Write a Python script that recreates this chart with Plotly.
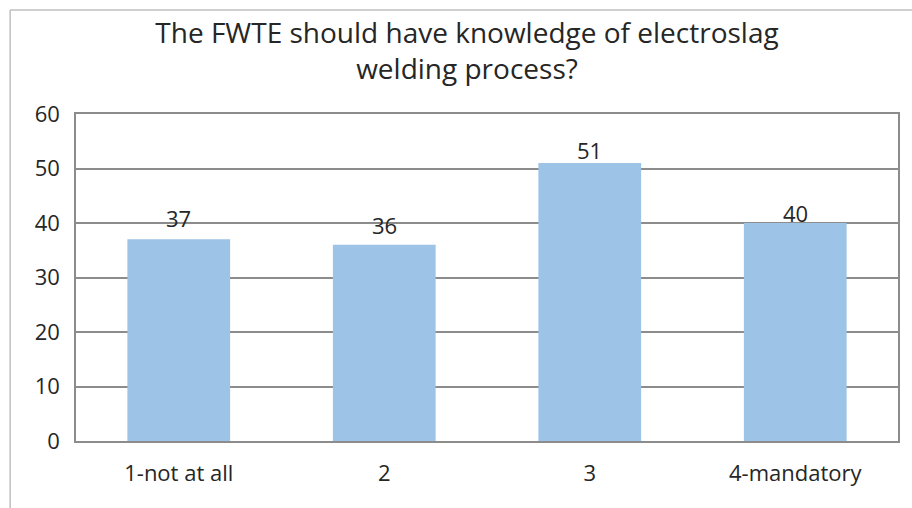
import plotly.graph_objects as go

categories = ["1-not at all", "2", "3", "4-mandatory"]
values = [37, 36, 51, 40]
y_ticks = [0, 10, 20, 30, 40, 50, 60]
title_lines = ["The FWTE should have knowledge of electroslag", "welding process?"]

W, H = 912, 508
L, R, T, B = 76, 12, 114, 67
pw, ph = W - L - R, H - T - B

FONT = "Open Sans, Noto Sans, sans-serif"
TEXT = "#262626"
GRID = "#8c8c8c"

# per-label vertical nudges (px) for the value labels
label_nudge = [4, 3, -4, -7]

fig = go.Figure(
    go.Bar(
        x=categories,
        y=values,
        marker=dict(color="#9DC3E6", line=dict(width=0)),
        cliponaxis=False,
    )
)

# value labels sitting just above each bar (category axis: position by index)
for i, val in enumerate(values):
    fig.add_annotation(
        x=i, y=val, xref="x", yref="y",
        text=str(val), showarrow=False,
        yanchor="bottom", yshift=label_nudge[i],
        font=dict(family=FONT, size=22, color=TEXT),
    )

# outer chart-area frame (in pixels, converted to paper coordinates)
def px_x(x):
    return (x - L) / pw

def px_y(y):
    return 1 - (y - T) / ph

fig.add_shape(type="line", xref="paper", yref="paper",
              x0=px_x(10), x1=px_x(W + 5), y0=px_y(10), y1=px_y(10),
              line=dict(color="#bfbfbf", width=1.5))
fig.add_shape(type="line", xref="paper", yref="paper",
              x0=px_x(10), x1=px_x(10), y0=px_y(10), y1=px_y(H + 5),
              line=dict(color="#bfbfbf", width=1.5))

fig.update_layout(
    width=W,
    height=H,
    margin=dict(l=L, r=R, t=T, b=B),
    paper_bgcolor="white",
    plot_bgcolor="white",
    bargap=0.5,
    showlegend=False,
    title=dict(
        text="<br>".join(title_lines),
        x=467 / W,
        xanchor="center",
        y=1 - 43 / H,
        yanchor="middle",
        font=dict(family=FONT, size=28, color=TEXT),
    ),
    font=dict(family=FONT, color=TEXT),
)

fig.update_yaxes(
    range=[0, 60],
    tickvals=y_ticks,
    showgrid=True,
    gridcolor=GRID,
    gridwidth=1.5,
    showline=True,
    linecolor=GRID,
    linewidth=1.5,
    mirror=True,
    zeroline=False,
    ticks="",
    ticklabelstandoff=10,
    tickfont=dict(family=FONT, size=22, color=TEXT),
)
fig.update_xaxes(
    type="category",
    showline=True,
    linecolor=GRID,
    linewidth=1.5,
    mirror=True,
    ticks="",
    ticklabelstandoff=12,
    tickfont=dict(family=FONT, size=22, color=TEXT),
)

fig.write_html("out.html")
